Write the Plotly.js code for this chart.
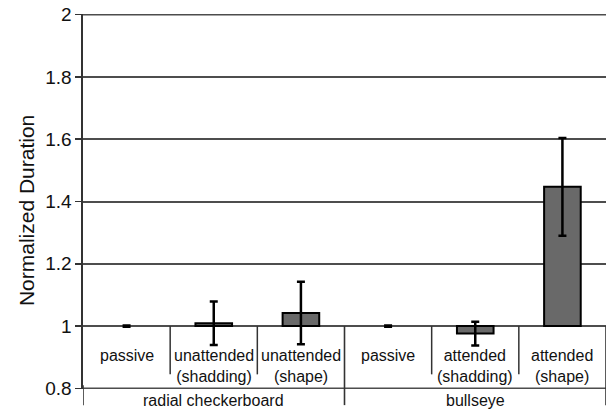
<!DOCTYPE html>
<html>
<head>
<meta charset="utf-8">
<script src="https://cdn.plot.ly/plotly-3.0.1.min.js"></script>
<style>html,body{margin:0;padding:0;background:#fff;}#chart{width:608px;height:412px;}</style>
</head>
<body>
<div id="chart"></div>
<script>
// Data
var categories = ['passive', 'unattended<br>(shadding)', 'unattended<br>(shape)', 'passive', 'attended<br>(shadding)', 'attended<br>(shape)'];
var groups = ['radial checkerboard', 'bullseye'];
var groupSizes = [3, 3];
var values = [1.0, 1.009, 1.042, 1.0, 0.976, 1.447];
var errors = [0.002, 0.07, 0.1, 0.002, 0.038, 0.157];
var yTickVals = [0.8, 1, 1.2, 1.4, 1.6, 1.8, 2];
var yTickText = ['0.8', '1', '1.2', '1.4', '1.6', '1.8', '2'];

var baseline = 1;
var yRange = [0.798, 2.002];
var xs = categories.map(function (c, i) { return i; });

var trace = {
  type: 'bar',
  x: xs,
  y: values.map(function (v) { return v - baseline; }),
  base: values.map(function () { return baseline; }),
  width: 0.42,
  marker: {
    color: '#696969',
    line: { color: '#000', width: values.map(function (v) { return v === baseline ? 0 : 2; }) }
  },
  error_y: { type: 'data', array: errors, visible: true, color: '#000', thickness: 2.5, width: 4 },
  hoverinfo: 'none'
};

var font = 'Liberation Sans, Arial, Helvetica, sans-serif';
var annotations = [];
var shapes = [];

categories.forEach(function (c, i) {
  annotations.push({
    x: i, y: 0.94, xref: 'x', yref: 'y', text: c, showarrow: false,
    xanchor: 'center', yanchor: 'top', align: 'center',
    font: { family: font, size: 16, color: '#111' }
  });
});

// group labels and separators
var start = 0;
var groupEdges = [-0.5];
groups.forEach(function (g, k) {
  var end = start + groupSizes[k] - 1;
  annotations.push({
    x: (start + end) / 2, y: -0.003, xref: 'x', yref: 'paper', text: g, showarrow: false,
    xanchor: 'center', yanchor: 'top',
    font: { family: font, size: 16, color: '#111' }
  });
  groupEdges.push(end + 0.5);
  start = end + 1;
});

// y-axis title (centred on the whole chart including the label strip)
annotations.push({
  x: -0.109, y: 0.477, xref: 'paper', yref: 'paper', text: 'Normalized Duration',
  textangle: -90, showarrow: false, xanchor: 'center', yanchor: 'middle',
  font: { family: font, size: 21, color: '#111' }
});

for (var i = 0; i < categories.length - 1; i++) {
  var b = i + 0.5;
  if (groupEdges.indexOf(b) === -1) {
    shapes.push({ type: 'line', xref: 'x', yref: 'y', x0: b, x1: b, y0: baseline, y1: 0.845,
      line: { color: '#333', width: 1.5 } });
  }
}
var basePaper = (baseline - yRange[0]) / (yRange[1] - yRange[0]);
groupEdges.forEach(function (b) {
  shapes.push({ type: 'line', xref: 'x', yref: 'paper', x0: b, x1: b, y0: -0.043,
    y1: b === -0.5 ? 0.01 : basePaper, line: { color: '#333', width: 1.6 } });
});

// gridlines at the two ends of the range (Plotly drops grid lines on the plot edges)
[yTickVals[0], yTickVals[yTickVals.length - 1]].forEach(function (v) {
  shapes.push({ type: 'line', xref: 'paper', yref: 'y', x0: 0, x1: 1, y0: v, y1: v,
    layer: 'below', line: { color: '#4d4d4d', width: 2 } });
});

var layout = {
  width: 608, height: 412,
  margin: { l: 83, r: 2, t: 14, b: 23 },
  paper_bgcolor: '#fff', plot_bgcolor: '#fff',
  showlegend: false,
  font: { family: font, color: '#111' },
  xaxis: {
    range: [-0.5, 5.5], showticklabels: false, showgrid: false, zeroline: false,
    showline: false, ticks: '', fixedrange: true
  },
  yaxis: {
    range: yRange, tickvals: yTickVals, ticktext: yTickText,
    showgrid: true, gridcolor: '#4d4d4d', gridwidth: 2,
    zeroline: false, showline: true, linecolor: '#333', linewidth: 1.6,
    ticks: 'outside', ticklen: 6, tickcolor: '#333', tickwidth: 1.6,
    tickfont: { family: font, size: 19, color: '#111' },
    fixedrange: true
  },
  annotations: annotations,
  shapes: shapes
};

Plotly.newPlot('chart', [trace], layout, { displayModeBar: false, staticPlot: true });
</script>
</body>
</html>
